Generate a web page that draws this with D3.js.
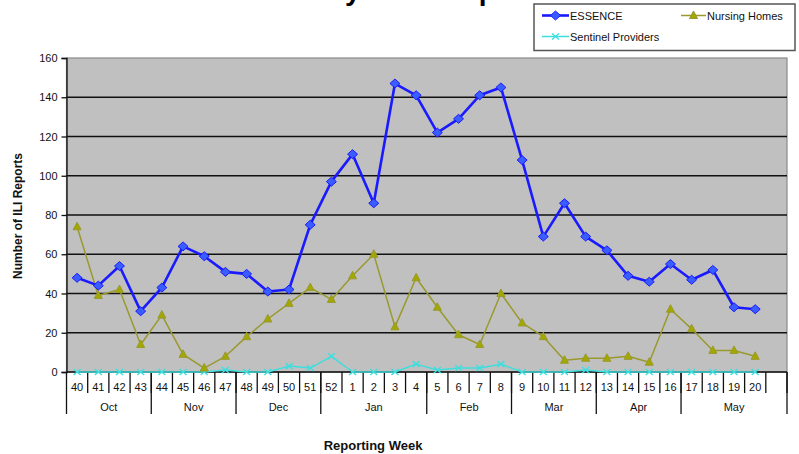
<!DOCTYPE html>
<html>
<head>
<meta charset="utf-8">
<script src="https://cdn.jsdelivr.net/npm/d3@7"></script>
<style>
  body { margin: 0; background: #fff; }
  text { font-family: "Liberation Sans", Arial, sans-serif; }
</style>
</head>
<body>
<div id="chart"></div>
<script>
/* weekly ILI reports by source, Oct - May */

var weeks = ["40","41","42","43","44","45","46","47","48","49","50","51","52",
    "1","2","3","4","5","6","7","8","9","10","11","12","13","14","15","16","17","18","19","20",""];
var months = ["Oct","Nov","Dec","Jan","Feb","Mar","Apr","May"];
var monthWeeks = [4, 4, 4, 5, 4, 4, 4, 5];
var yTicks = [0, 20, 40, 60, 80, 100, 120, 140, 160];

var essence = [48,44,54,31,43,64,59,51,50,41,42,75,97,111,86,147,141,122,129,141,145,108,69,86,69,62,49,46,55,47,52,33,32];
var nursing = [74,39,42,14,29,9,2,8,18,27,35,43,37,49,60,23,48,33,19,14,40,25,18,6,7,7,8,5,32,22,11,11,8];
var sentinel = [0,0,0,0,0,0,0,1,0,0,3,2,8,0,0,0,4,1,2,2,4,0,0,0,1,0,0,0,0,0,0,0,0];

var series = [
    {name: "ESSENCE", values: essence, color: "#1a1aff", width: 2.6, marker: "diamond", fill: "#3a5dff"},
    {name: "Nursing Homes", values: nursing, color: "#99992e", width: 1.5, marker: "triangle", fill: "#a3a800"},
    {name: "Sentinel Providers", values: sentinel, color: "#3fdede", width: 1.5, marker: "cross", fill: "#3fdede"}
];

var W = 799, H = 454;
var plotL = 66.5, plotR = 787, plotT = 58, plotB = 372;

var svg = d3.select("#chart")
    .append("svg")
    .attr("width", W)
    .attr("height", H);

// title, mostly cut off at the top edge
svg.append("text")
    .attr("x", 233)
    .attr("y", 0)
    .attr("font-size", 28)
    .attr("font-weight", "bold")
    .text("Summary of ILI Reports");

var x = d3.scaleBand()
    .domain(weeks)
    .range([plotL, plotR])
    .padding(0);

var y = d3.scaleLinear()
    .domain([0, 160])
    .range([plotB, plotT]);

// plot background
svg.append("rect")
    .attr("x", plotL)
    .attr("y", plotT)
    .attr("width", plotR - plotL)
    .attr("height", plotB - plotT)
    .attr("fill", "#c0c0c0")
    .attr("stroke", "#8a8a8a")
    .attr("stroke-width", 1.2);

// grid lines
svg.append("g").selectAll("line")
    .data(yTicks.filter(function(d) { return d > 0 && d < 160; }))
    .enter()
    .append("line")
    .attr("x1", plotL)
    .attr("x2", plotR)
    .attr("y1", function(d) { return y(d); })
    .attr("y2", function(d) { return y(d); })
    .attr("stroke", "#111")
    .attr("stroke-width", 1.3);

// y axis
var yAxis = svg.append("g")
    .attr("transform", "translate(" + plotL + ",0)")
    .call(d3.axisLeft(y).tickValues(yTicks).tickSize(5).tickPadding(4));
yAxis.select(".domain").attr("stroke", "#111").attr("stroke-width", 1.3);
yAxis.selectAll(".tick line").attr("stroke", "#111").attr("stroke-width", 1.3);
yAxis.selectAll("text")
    .attr("font-size", 11)
    .attr("font-family", "Liberation Sans, Arial, sans-serif")
    .attr("fill", "#111");

svg.append("text")
    .attr("transform", "translate(22,216) rotate(-90)")
    .attr("text-anchor", "middle")
    .attr("font-size", 12)
    .attr("font-weight", "bold")
    .attr("fill", "#111")
    .text("Number of ILI Reports");

// x axis line
svg.append("line")
    .attr("x1", plotL)
    .attr("x2", plotR)
    .attr("y1", plotB)
    .attr("y2", plotB)
    .attr("stroke", "#111")
    .attr("stroke-width", 1.3);

// week separators
svg.append("g").selectAll("line")
    .data(weeks)
    .enter()
    .append("line")
    .attr("x1", function(d) { return x(d) + x.bandwidth(); })
    .attr("x2", function(d) { return x(d) + x.bandwidth(); })
    .attr("y1", plotB)
    .attr("y2", plotB + 21)
    .attr("stroke", "#111")
    .attr("stroke-width", 1.3);

svg.append("g").selectAll("text")
    .data(weeks)
    .enter()
    .append("text")
    .attr("x", function(d) { return x(d) + x.bandwidth() / 2; })
    .attr("y", plotB + 19)
    .attr("text-anchor", "middle")
    .attr("font-size", 11)
    .attr("fill", "#111")
    .text(function(d) { return d; });

// month groups
var monthStart = [];
var acc = 0;
monthWeeks.forEach(function(n) { monthStart.push(acc); acc += n; });

var monthBounds = [weeks[0]].concat(monthStart.map(function(s, i) { return weeks[s + monthWeeks[i] - 1]; }));
svg.append("g").selectAll("line")
    .data(monthBounds)
    .enter()
    .append("line")
    .attr("x1", function(d, i) { return i == 0 ? x(d) : x(d) + x.bandwidth(); })
    .attr("x2", function(d, i) { return i == 0 ? x(d) : x(d) + x.bandwidth(); })
    .attr("y1", plotB)
    .attr("y2", plotB + 42)
    .attr("stroke", "#111")
    .attr("stroke-width", 1.3);

svg.append("g").selectAll("text")
    .data(months)
    .enter()
    .append("text")
    .attr("x", function(d, i) {
        var a = x(weeks[monthStart[i]]);
        var b = x(weeks[monthStart[i] + monthWeeks[i] - 1]) + x.bandwidth();
        return (a + b) / 2;
    })
    .attr("y", plotB + 39)
    .attr("text-anchor", "middle")
    .attr("font-size", 11)
    .attr("fill", "#111")
    .text(function(d) { return d; });

svg.append("text")
    .attr("x", 373)
    .attr("y", 450)
    .attr("text-anchor", "middle")
    .attr("font-size", 13)
    .attr("font-weight", "bold")
    .attr("fill", "#111")
    .text("Reporting Week");

// marker shapes
function drawMarker(g, s, cx, cy) {
    if (s.marker == "diamond") {
        g.append("path")
            .attr("d", "M" + cx + "," + (cy - 4.5) + "L" + (cx + 5) + "," + cy + "L" + cx + "," + (cy + 4.5) + "L" + (cx - 5) + "," + cy + "Z")
            .attr("fill", s.fill)
            .attr("stroke", s.color)
            .attr("stroke-width", 1);
    } else if (s.marker == "triangle") {
        g.append("path")
            .attr("d", "M" + cx + "," + (cy - 4.5) + "L" + (cx + 4) + "," + (cy + 3) + "L" + (cx - 4) + "," + (cy + 3) + "Z")
            .attr("fill", s.fill)
            .attr("stroke", s.color)
            .attr("stroke-width", 1);
    } else {
        g.append("path")
            .attr("d", "M" + (cx - 3.5) + "," + (cy - 3) + "L" + (cx + 3.5) + "," + (cy + 3) + "M" + (cx + 3.5) + "," + (cy - 3) + "L" + (cx - 3.5) + "," + (cy + 3))
            .attr("fill", "none")
            .attr("stroke", s.color)
            .attr("stroke-width", 1.4);
    }
}

var line = d3.line()
    .x(function(d, i) { return x(weeks[i]) + x.bandwidth() / 2; })
    .y(function(d) { return y(d); });

// draw bottom series first
series.slice().reverse().forEach(function(s) {
    var g = svg.append("g");
    g.append("path")
        .attr("d", line(s.values))
        .attr("fill", "none")
        .attr("stroke", s.color)
        .attr("stroke-width", s.width)
        .attr("stroke-linejoin", "round");
    s.values.forEach(function(v, i) {
        drawMarker(g, s, x(weeks[i]) + x.bandwidth() / 2, y(v));
    });
});

// legend
var legend = svg.append("g");
legend.append("rect")
    .attr("x", 534)
    .attr("y", 4)
    .attr("width", 261)
    .attr("height", 46.5)
    .attr("fill", "#fff")
    .attr("stroke", "#555")
    .attr("stroke-width", 1.5);

var legendPos = [{x: 542, y: 15.5}, {x: 681, y: 15.5}, {x: 542, y: 36.5}];
series.forEach(function(s, i) {
    var p = legendPos[i];
    var lw = i == 1 ? 25 : 27;
    var g = legend.append("g");
    g.append("line")
        .attr("x1", p.x)
        .attr("x2", p.x + lw)
        .attr("y1", p.y)
        .attr("y2", p.y)
        .attr("stroke", s.color)
        .attr("stroke-width", s.width);
    drawMarker(g, s, p.x + lw / 2, p.y);
    g.append("text")
        .attr("x", p.x + lw + 1)
        .attr("y", p.y + 4)
        .attr("font-size", 11)
        .attr("fill", "#111")
        .text(s.name);
});
</script>
</body>
</html>
